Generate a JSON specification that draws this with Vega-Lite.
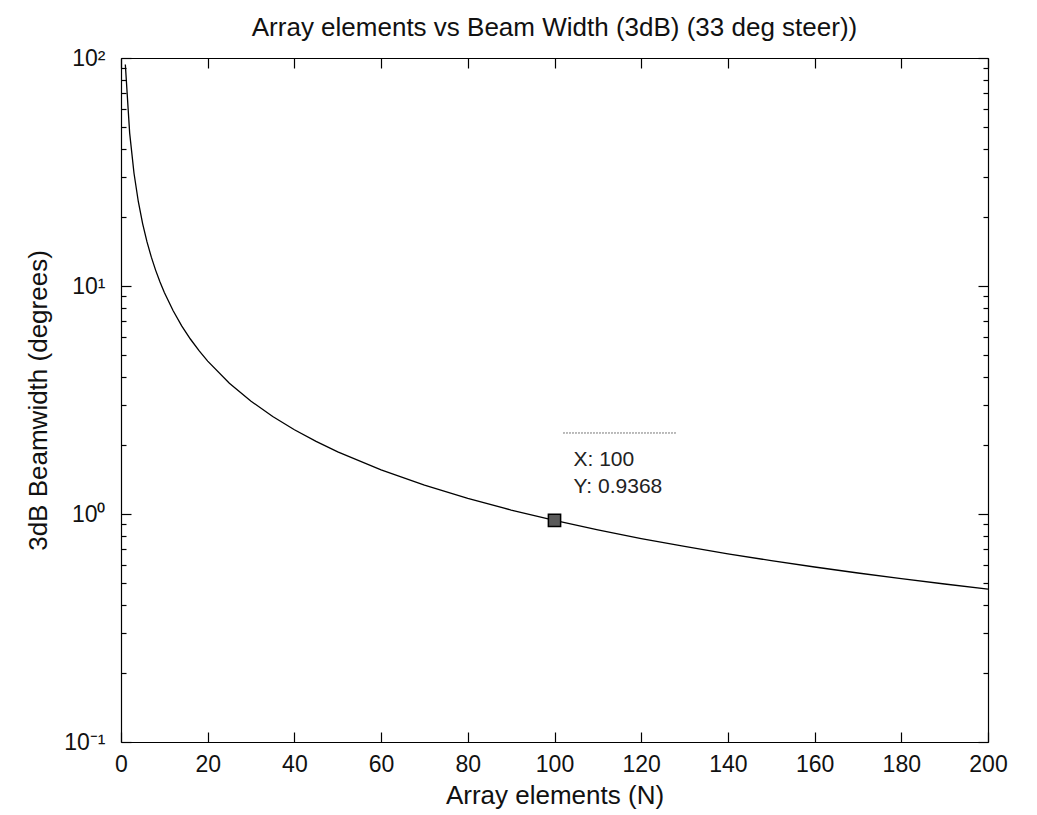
{
  "$schema": "https://vega.github.io/schema/vega-lite/v6.json",
  "width": 867,
  "height": 684,
  "autosize": {"type": "none"},
  "padding": {"left": 121, "top": 58, "right": 49, "bottom": 73},
  "background": "white",
  "title": {
    "text": "Array elements vs Beam Width (3dB) (33 deg steer))",
    "font": "Liberation Sans",
    "fontSize": 26,
    "fontWeight": "normal",
    "color": "#111111",
    "offset": 6
  },
  "config": {
    "view": {"stroke": null},
    "axis": {
      "grid": false,
      "domainColor": "#000000",
      "domainWidth": 1.2,
      "tickColor": "#000000",
      "tickWidth": 1.2,
      "labelFont": "Liberation Sans",
      "labelFontSize": 23,
      "labelColor": "#111111",
      "titleFont": "Liberation Sans",
      "titleFontSize": 26,
      "titleFontWeight": "normal",
      "titleColor": "#111111",
      "labelFlush": false,
      "labelOverlap": false,
      "labelBound": false
    }
  },
  "data": {
    "values": [
      {"N": 1, "B": 93.68}, {"N": 2, "B": 46.84}, {"N": 3, "B": 31.23},
      {"N": 4, "B": 23.42}, {"N": 5, "B": 18.74}, {"N": 6, "B": 15.61},
      {"N": 7, "B": 13.38}, {"N": 8, "B": 11.71}, {"N": 9, "B": 10.41},
      {"N": 10, "B": 9.368}, {"N": 12, "B": 7.807}, {"N": 14, "B": 6.691},
      {"N": 16, "B": 5.855}, {"N": 18, "B": 5.204}, {"N": 20, "B": 4.684},
      {"N": 25, "B": 3.747}, {"N": 30, "B": 3.123}, {"N": 35, "B": 2.677},
      {"N": 40, "B": 2.342}, {"N": 45, "B": 2.082}, {"N": 50, "B": 1.874},
      {"N": 60, "B": 1.561}, {"N": 70, "B": 1.338}, {"N": 80, "B": 1.171},
      {"N": 90, "B": 1.041}, {"N": 100, "B": 0.9368}, {"N": 110, "B": 0.8516},
      {"N": 120, "B": 0.7807}, {"N": 130, "B": 0.7206}, {"N": 140, "B": 0.6691},
      {"N": 150, "B": 0.6245}, {"N": 160, "B": 0.5855}, {"N": 170, "B": 0.5511},
      {"N": 180, "B": 0.5204}, {"N": 190, "B": 0.4931}, {"N": 200, "B": 0.4684}
    ]
  },
  "resolve": {"axis": {"x": "independent", "y": "independent"}},
  "layer": [
    {
      "mark": {"type": "line", "color": "#000000", "strokeWidth": 1.3},
      "encoding": {
        "x": {
          "field": "N", "type": "quantitative",
          "scale": {"domain": [0, 200], "nice": false, "zero": false},
          "axis": {
            "orient": "bottom",
            "title": "Array elements (N)",
            "values": [0, 20, 40, 60, 80, 100, 120, 140, 160, 180, 200],
            "tickSize": -10,
            "labelPadding": 21,
            "titlePadding": 6
          }
        },
        "y": {
          "field": "B", "type": "quantitative",
          "scale": {"type": "log", "domain": [0.1, 100], "nice": false},
          "axis": {
            "orient": "left",
            "title": "3dB Beamwidth (degrees)",
            "values": [0.1, 0.2, 0.3, 0.4, 0.5, 0.6, 0.7, 0.8, 0.9, 1, 2, 3, 4, 5, 6, 7, 8, 9, 10, 20, 30, 40, 50, 60, 70, 80, 90, 100],
            "labelExpr": "datum.value == 100 ? '10²' : datum.value == 10 ? '10¹' : datum.value == 1 ? '10⁰' : datum.value == 0.1 ? '10⁻¹' : ''",
            "tickSize": {"condition": {"test": "datum.value == 100 || datum.value == 10 || datum.value == 1 || datum.value == 0.1", "value": -10}, "value": -5},
            "labelPadding": 26,
            "labelBaseline": "middle",
            "titlePadding": 12
          }
        }
      }
    },
    {
      "data": {"values": [{"N": 100, "B": 0.9368, "xl": "X: 100", "yl": "Y: 0.9368"}]},
      "mark": {"type": "point", "shape": "square", "size": 150, "filled": true, "fill": "#5a5a5a", "stroke": "#000000", "strokeWidth": 1.5, "opacity": 1},
      "encoding": {
        "x": {
          "field": "N", "type": "quantitative",
          "axis": {
            "orient": "top", "title": null, "labels": false,
            "values": [0, 20, 40, 60, 80, 100, 120, 140, 160, 180, 200],
            "tickSize": -10
          }
        },
        "y": {
          "field": "B", "type": "quantitative",
          "axis": {
            "orient": "right", "title": null, "labels": false,
            "values": [0.1, 0.2, 0.3, 0.4, 0.5, 0.6, 0.7, 0.8, 0.9, 1, 2, 3, 4, 5, 6, 7, 8, 9, 10, 20, 30, 40, 50, 60, 70, 80, 90, 100],
            "tickSize": {"condition": {"test": "datum.value == 100 || datum.value == 10 || datum.value == 1 || datum.value == 0.1", "value": -10}, "value": -5}
          }
        }
      }
    },
    {
      "data": {"values": [{"N": 100, "B": 0.9368, "xl": "X: 100", "yl": "Y: 0.9368"}]},
      "mark": {"type": "text", "align": "left", "baseline": "middle", "dx": 19, "dy": -60, "font": "Liberation Sans", "fontSize": 21, "color": "#222222"},
      "encoding": {
        "x": {"field": "N", "type": "quantitative", "axis": null},
        "y": {"field": "B", "type": "quantitative", "axis": null},
        "text": {"field": "xl"}
      }
    },
    {
      "data": {"values": [{"N": 100, "B": 0.9368, "xl": "X: 100", "yl": "Y: 0.9368"}]},
      "mark": {"type": "text", "align": "left", "baseline": "middle", "dx": 19, "dy": -33, "font": "Liberation Sans", "fontSize": 21, "color": "#222222"},
      "encoding": {
        "x": {"field": "N", "type": "quantitative", "axis": null},
        "y": {"field": "B", "type": "quantitative", "axis": null},
        "text": {"field": "yl"}
      }
    },
    {
      "mark": {"type": "rule", "color": "#bbbbbb", "strokeWidth": 1, "strokeDash": [1, 2]},
      "encoding": {
        "x": {"datum": 102, "type": "quantitative", "axis": null},
        "x2": {"datum": 128.3},
        "y": {"datum": 2.265, "type": "quantitative", "axis": null}
      }
    }
  ]
}
